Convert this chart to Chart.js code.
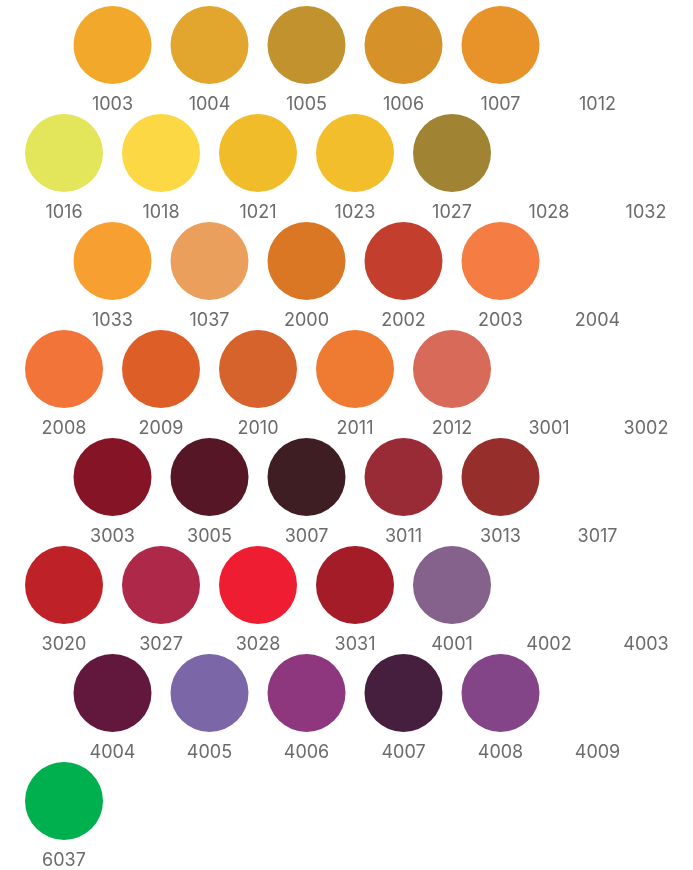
<!DOCTYPE html>
<html>
<head>
<meta charset="utf-8">
<script src="https://cdn.jsdelivr.net/npm/chart.js@4.4.1/dist/chart.umd.min.js"></script>
<style>
  html, body { margin: 0; padding: 0; background: #fff; }
  #wrap { width: 693px; height: 870px; position: relative; }
</style>
</head>
<body>
<div id="wrap"><canvas id="c"></canvas></div>
<script>
// Colour codes, one array per row of the swatch grid
const ROW_CODES = [
  ["1003", "1004", "1005", "1006", "1007", "1012"],
  ["1016", "1018", "1021", "1023", "1027", "1028", "1032"],
  ["1033", "1037", "2000", "2002", "2003", "2004"],
  ["2008", "2009", "2010", "2011", "2012", "3001", "3002"],
  ["3003", "3005", "3007", "3011", "3013", "3017"],
  ["3020", "3027", "3028", "3031", "4001", "4002", "4003"],
  ["4004", "4005", "4006", "4007", "4008", "4009"],
  ["6037"]
];
// Swatch fill per code (null = no swatch drawn, label only)
const ROW_COLORS = [
  ["#F2A92B", "#E2A52D", "#C2922F", "#D69229", "#E8922A", null],
  ["#E3E55A", "#FCD844", "#F1BC2A", "#F2BE2B", "#A08333", null, null],
  ["#F89F32", "#EAA05C", "#D97724", "#C33E2D", "#F57D43", null],
  ["#F37438", "#DD5E27", "#D6632C", "#EF7A31", "#D86A5A", null, null],
  ["#861427", "#561625", "#3E1E22", "#992B37", "#962E2C", null],
  ["#BE2228", "#AE2849", "#EE1D31", "#A41C28", "#84628B", null, null],
  ["#62173C", "#7B66A8", "#8E377F", "#461F3F", "#834587", null],
  ["#00AF4D"]
];

// ── Build points: staggered grid, 6-item rows are shifted half a step ─────
const points = [], colors = [], codes = [];
ROW_CODES.forEach((row, r) => {
  const shift = row.length === 6 ? 1 : 0;
  row.forEach((code, i) => {
    points.push({ x: i * 2 + shift, y: r });
    colors.push(ROW_COLORS[r][i] || "rgba(0,0,0,0)");
    codes.push(code);
  });
});

const RADIUS = 39;
const labelPlugin = {
  id: "swatchLabels",
  afterDatasetsDraw(chart) {
    const { ctx, scales } = chart;
    ctx.save();
    ctx.font = "18px Inter, 'Open Sans', sans-serif";
    ctx.fillStyle = "#6b6b6b";
    ctx.textAlign = "center";
    ctx.textBaseline = "middle";
    points.forEach((p, k) => {
      const px = scales.x.getPixelForValue(p.x);
      const py = scales.y.getPixelForValue(p.y);
      ctx.fillText(codes[k], px, py + RADIUS + 21);
    });
    ctx.restore();
  }
};

new Chart(document.getElementById("c"), {
  type: "scatter",
  data: {
    datasets: [{
      data: points,
      pointRadius: RADIUS,
      pointHoverRadius: RADIUS,
      pointBackgroundColor: colors,
      pointBorderWidth: 0,
      pointHoverBorderWidth: 0,
      clip: false
    }]
  },
  options: {
    responsive: true, maintainAspectRatio: false, animation: false,
    layout: { padding: 0, autoPadding: false },
    plugins: { legend: { display: false }, tooltip: { enabled: false } },
    events: [],
    scales: {
      x: { display: false, min: -64 / 48.5, max: (693 - 64) / 48.5 },
      y: { display: false, reverse: true, min: -45 / 108, max: (870 - 45) / 108 }
    }
  },
  plugins: [labelPlugin]
});
</script>
</body>
</html>
